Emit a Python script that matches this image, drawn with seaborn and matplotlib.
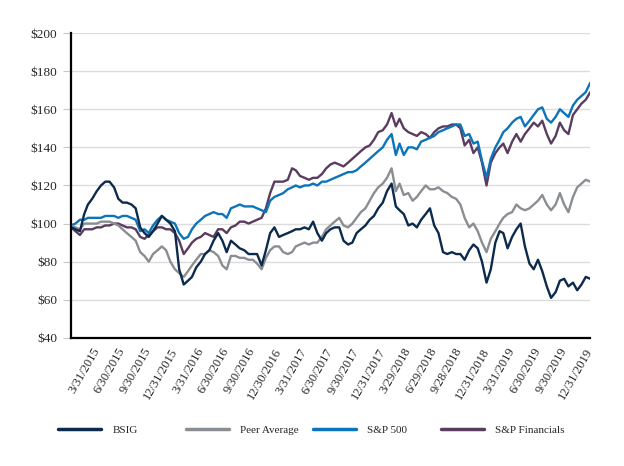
import pandas as pd
import matplotlib
matplotlib.use('Agg')
import matplotlib.pyplot as plt
import matplotlib.ticker as mticker
from matplotlib.lines import Line2D
import seaborn as sns

'''
    DATA  (indexed value of $100 invested, read twice a month)
'''
month_ends = pd.date_range('2014-12-31', periods=61, freq=pd.offsets.MonthEnd())
dates = []
for d in month_ends:
    dates.append(d)
    if d < month_ends[-1]:
        dates.append(d + pd.Timedelta(days=15))

bsig = [98, 97, 96, 105, 110, 113, 117, 120, 122, 122,
        119, 113, 111, 111, 110, 108, 98, 95, 93, 96,
        100, 104, 102, 100, 96, 76, 68, 70, 72, 77,
        80, 84, 86, 91, 95, 91, 85, 91, 89, 87,
        86, 84, 84, 84, 78, 86, 95, 98, 93, 94,
        95, 96, 97, 97, 98, 97, 101, 95, 91, 95,
        97, 98, 98, 91, 89, 90, 95, 97, 99, 102,
        104, 108, 111, 117, 121, 109, 107, 105, 99, 100,
        98, 102, 105, 108, 99, 95, 85, 84, 85, 84,
        84, 81, 86, 89, 87, 80, 69, 76, 90, 96,
        95, 87, 93, 97, 100, 88, 79, 76, 81, 75,
        67, 61, 64, 70, 71, 67, 69, 65, 68, 72, 71]

peer_avg = [99, 98, 97, 100, 100, 100, 100, 101, 101, 101,
            100, 99, 97, 95, 93, 91, 85, 83, 80, 84,
            86, 88, 86, 80, 76, 74, 72, 75, 78, 81,
            84, 84, 86, 85, 83, 78, 76, 83, 83, 82,
            82, 81, 81, 79, 76, 82, 86, 88, 88, 85,
            84, 85, 88, 89, 90, 89, 90, 90, 93, 97,
            99, 101, 103, 99, 98, 100, 103, 106, 108, 112,
            116, 119, 121, 124, 129, 117, 121, 115, 116, 112,
            114, 117, 120, 118, 118, 119, 117, 116, 114, 113,
            110, 103, 98, 100, 96, 90, 85, 92, 96, 100,
            103, 105, 106, 110, 108, 107, 108, 110, 112, 115,
            110, 107, 110, 116, 110, 106, 114, 119, 121, 123, 122]

sp500 = [99, 100, 102, 102, 103, 103, 103, 103, 104, 104,
         104, 103, 104, 104, 103, 102, 96, 97, 95, 99,
         102, 104, 102, 101, 100, 95, 92, 93, 97, 100,
         102, 104, 105, 106, 105, 105, 103, 108, 109, 110,
         109, 109, 109, 108, 107, 106, 112, 114, 115, 116,
         118, 119, 120, 119, 120, 120, 121, 120, 122, 122,
         123, 124, 125, 126, 127, 127, 128, 130, 132, 134,
         136, 138, 140, 144, 147, 136, 142, 136, 140, 140,
         139, 143, 144, 145, 146, 148, 149, 150, 151, 152,
         152, 146, 147, 142, 143, 133, 124, 134, 140, 144,
         148, 150, 153, 155, 156, 151, 154, 157, 160, 161,
         155, 153, 156, 160, 158, 156, 162, 165, 167, 169, 174]

sp_fin = [98, 96, 94, 97, 97, 97, 98, 98, 99, 99,
          100, 100, 99, 98, 98, 97, 93, 92, 94, 96,
          98, 98, 97, 97, 95, 91, 84, 87, 90, 92,
          93, 95, 94, 93, 97, 97, 95, 98, 99, 101,
          101, 100, 101, 102, 103, 108, 116, 122, 122, 122,
          123, 129, 128, 125, 124, 123, 124, 124, 126, 129,
          131, 132, 131, 130, 132, 134, 136, 138, 140, 141,
          144, 148, 149, 152, 158, 151, 155, 150, 148, 147,
          146, 148, 147, 145, 148, 150, 151, 151, 152, 152,
          150, 141, 144, 137, 140, 132, 120, 132, 137, 140,
          142, 137, 143, 147, 143, 147, 150, 153, 151, 154,
          147, 142, 146, 153, 149, 147, 157, 160, 163, 165, 169]

tick_labels = ['3/31/2015', '6/30/2015', '9/30/2015', '12/31/2015',
               '3/31/2016', '6/30/2016', '9/30/2016', '12/30/2016',
               '3/31/2017', '6/30/2017', '9/30/2017', '12/31/2017',
               '3/29/2018', '6/29/2018', '9/28/2018', '12/31/2018',
               '3/31/2019', '6/30/2019', '9/30/2019', '12/31/2019']

series = {
    'BSIG': (bsig, '#0b2a4c'),
    'Peer Average': (peer_avg, '#8a8d92'),
    'S&P 500': (sp500, '#0b74bb'),
    'S&P Financials': (sp_fin, '#5a3c5e'),
}

'''
    PLOT
'''
sns.set_style('white')
plt.rcParams['font.family'] = ['Liberation Serif', 'DejaVu Serif']

fig = plt.figure(figsize=(6.24, 4.66), dpi=100)
ax = fig.add_axes([0.114, 0.275, 0.832, 0.654])

for name in ['S&P Financials', 'S&P 500', 'Peer Average', 'BSIG']:
    vals, col = series[name]
    sns.lineplot(x=dates, y=vals, color=col, linewidth=1.7, ax=ax)

ax.set_ylim(40, 200)
ax.set_yticks(range(40, 201, 20))
ax.yaxis.set_major_formatter(mticker.StrMethodFormatter('${x:.0f}'))
ax.grid(axis='y', color='#dcdcdc', linewidth=1)
ax.set_axisbelow(True)

ax.set_xlim(pd.Timestamp('2014-12-31'), pd.Timestamp('2019-12-31'))
ax.set_xticks(pd.to_datetime(tick_labels, format='%m/%d/%Y'))
ax.set_xticklabels(tick_labels, rotation=60, ha='right', va='center',
                   rotation_mode='anchor', fontsize=9)
ax.tick_params(axis='x', length=0, pad=8)
ax.tick_params(axis='y', length=6, color='#c8c8c8', labelsize=9.5, pad=4,
               left=True)

for s in ['top', 'right']:
    ax.spines[s].set_visible(False)
ax.spines['left'].set_color('black')
ax.spines['left'].set_linewidth(1.6)
ax.spines['bottom'].set_color('black')
ax.spines['bottom'].set_linewidth(1.6)

# legend entries spread evenly under the chart
leg_x = [58, 186, 313, 441]
for xpix, name in zip(leg_x, series):
    h = Line2D([], [], color=series[name][1], linewidth=2.5)
    fig.legend([h], [name], loc='center left',
               bbox_to_anchor=(xpix / 624, 1 - 430 / 466),
               frameon=False, fontsize=8, handlelength=3.9,
               handletextpad=1.0, borderpad=0, borderaxespad=0)

fig.savefig('out.png', dpi=100)
